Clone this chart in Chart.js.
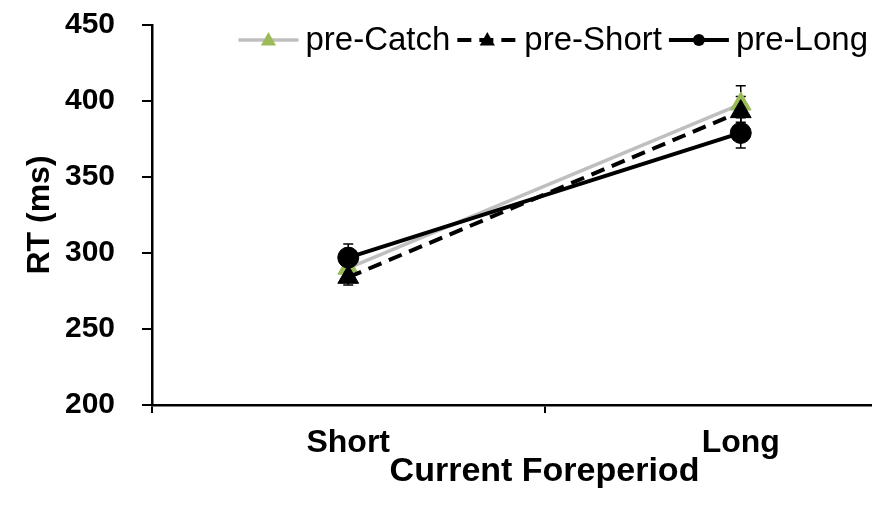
<!DOCTYPE html>
<html>
<head>
<meta charset="utf-8">
<script src="https://cdn.jsdelivr.net/npm/chart.js@4.4.0/dist/chart.umd.min.js"></script>
<style>
    html, body { margin: 0; padding: 0; overflow: hidden; background: #fff; }
</style>
</head>
<body>
<canvas id="chart" width="950" height="505"></canvas>
<script>
// Data
var categories = ['Short', 'Long'];
var seriesNames = ['pre-Catch', 'pre-Short', 'pre-Long'];
var preCatch = [290, 398];
var preShort = [284, 393];
var preLong = [297, 379];
var preCatchErr = [9, 12];
var preShortErr = [5, 10];
var preLongErr = [9, 10];
var yTicks = [200, 250, 300, 350, 400, 450];

var FONT = "'Liberation Sans', Arial, sans-serif";

// error bars drawn under the markers
var errorBars = {
    id: 'errorBars',
    beforeDatasetsDraw: function (chart) {
        var ctx = chart.ctx;
        var y = chart.scales.y;
        ctx.save();
        ctx.strokeStyle = '#000';
        ctx.lineWidth = 1.5;
        chart.data.datasets.forEach(function (ds, i) {
            var meta = chart.getDatasetMeta(i);
            meta.data.forEach(function (pt, j) {
                var hi = y.getPixelForValue(ds.data[j] + ds.errors[j]);
                var lo = y.getPixelForValue(ds.data[j] - ds.errors[j]);
                ctx.beginPath();
                ctx.moveTo(pt.x, hi); ctx.lineTo(pt.x, lo);
                ctx.moveTo(pt.x - 5, hi); ctx.lineTo(pt.x + 5, hi);
                ctx.moveTo(pt.x - 5, lo); ctx.lineTo(pt.x + 5, lo);
                ctx.stroke();
            });
        });
        ctx.restore();
    }
};

function marker(ctx, style, x, y, r, color) {
    ctx.fillStyle = color;
    ctx.beginPath();
    if (style === 'circle') {
        ctx.arc(x, y, r, 0, Math.PI * 2);
    } else {
        ctx.moveTo(x, y - r);
        ctx.lineTo(x + r * 0.95, y + r * 0.7);
        ctx.lineTo(x - r * 0.95, y + r * 0.7);
        ctx.closePath();
    }
    ctx.fill();
}

// legend drawn inside the plot, right aligned
var insideLegend = {
    id: 'insideLegend',
    afterDraw: function (chart) {
        var ctx = chart.ctx;
        var sample = 60, gap = 7, space = 7;
        var right = 868, cy = 40;
        ctx.save();
        ctx.font = '33px ' + FONT;
        ctx.textBaseline = 'middle';
        var total = 0;
        chart.data.datasets.forEach(function (ds, i) {
            total += sample + gap + ctx.measureText(ds.label).width + (i > 0 ? space : 0);
        });
        var x = right - total;
        chart.data.datasets.forEach(function (ds) {
            ctx.strokeStyle = ds.borderColor;
            ctx.lineWidth = ds.borderWidth;
            ctx.setLineDash(ds.borderDash || []);
            ctx.beginPath();
            ctx.moveTo(x, cy); ctx.lineTo(x + sample, cy);
            ctx.stroke();
            ctx.setLineDash([]);
            marker(ctx, ds.pointStyle, x + sample / 2, cy, ds.pointStyle === 'circle' ? 6 : 8, ds.pointBackgroundColor);
            x += sample + gap;
            ctx.fillStyle = '#000';
            ctx.fillText(ds.label, x, cy + 1);
            x += ctx.measureText(ds.label).width + space;
        });
        ctx.restore();
    }
};

new Chart(document.getElementById('chart'), {
    type: 'line',
    data: {
        labels: categories,
        datasets: [{
            label: seriesNames[0],
            data: preCatch,
            errors: preCatchErr,
            borderColor: '#bfbfbf',
            borderWidth: 3.5,
            pointStyle: 'triangle',
            pointRadius: 12,
            pointBackgroundColor: '#9bbb59',
            pointBorderColor: '#9bbb59',
            pointBorderWidth: 1,
            order: 3
        }, {
            label: seriesNames[1],
            data: preShort,
            errors: preShortErr,
            borderColor: '#000',
            borderWidth: 4,
            borderDash: [14, 8],
            pointStyle: 'triangle',
            pointRadius: 12,
            pointBackgroundColor: '#000',
            pointBorderColor: '#000',
            pointBorderWidth: 1,
            order: 2
        }, {
            label: seriesNames[2],
            data: preLong,
            errors: preLongErr,
            borderColor: '#000',
            borderWidth: 4,
            pointStyle: 'circle',
            pointRadius: 10.5,
            pointBackgroundColor: '#000',
            pointBorderColor: '#000',
            pointBorderWidth: 1,
            order: 1
        }]
    },
    options: {
        responsive: false,
        animation: false,
        layout: { padding: { top: 25, left: 0, right: 0, bottom: 0 } },
        plugins: {
            legend: { display: false },
            tooltip: { enabled: false }
        },
        scales: {
            x: {
                offset: true,
                grid: { drawOnChartArea: false, offset: true, color: '#000', lineWidth: 2, tickLength: 8 },
                border: { color: '#000', width: 2.5 },
                ticks: { color: '#000', padding: 11, font: { family: FONT, size: 32, weight: 'bold' } },
                title: {
                    display: true,
                    text: 'Current Foreperiod',
                    color: '#000',
                    padding: { top: 0, bottom: 13 },
                    font: { family: FONT, size: 34, weight: 'bold' }
                },
                afterFit: function (scale) {
                    scale.height = 100;
                    scale.paddingLeft = 0;
                    scale.paddingRight = 0;
                }
            },
            y: {
                min: 200,
                max: 450,
                afterBuildTicks: function (scale) {
                    scale.ticks = yTicks.map(function (v) { return { value: v }; });
                },
                grid: { drawOnChartArea: false, color: '#000', lineWidth: 2, tickLength: 10 },
                border: { color: '#000', width: 2.5 },
                ticks: { color: '#000', padding: 27, font: { family: FONT, size: 30, weight: 'bold' } },
                title: {
                    display: true,
                    text: 'RT (ms)',
                    color: '#000',
                    padding: { top: 21, bottom: 0 },
                    font: { family: FONT, size: 32, weight: 'bold' }
                },
                afterFit: function (scale) {
                    scale.width = 152;
                    scale.paddingTop = 0;
                    scale.paddingBottom = 0;
                }
            }
        }
    },
    plugins: [errorBars, insideLegend]
});
</script>
</body>
</html>
